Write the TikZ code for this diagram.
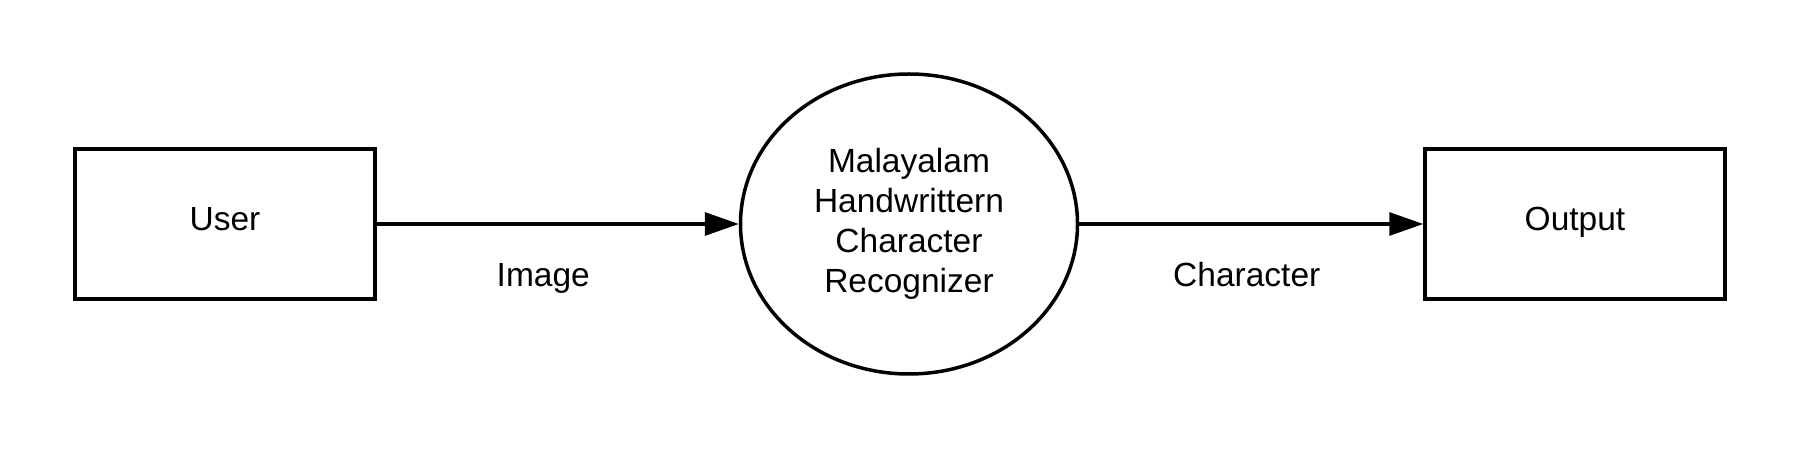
\documentclass[tikz,border=0pt]{standalone}
\usepackage{fontspec}
\setmainfont{Liberation Sans}
\usetikzlibrary{arrows.meta,shapes.geometric}
\begin{document}
\begin{tikzpicture}[x=1pt,y=1pt,
  every node/.style={font=\fontsize{33.5}{40}\selectfont},
  entity/.style={draw, line width=3.5pt, rectangle, minimum width=300pt, minimum height=150pt, inner sep=0pt, text height=23.4pt, text depth=10pt},
  process/.style={draw, line width=3.5pt, ellipse, minimum width=337pt, minimum height=300pt, inner sep=0pt, align=center},
  flow/.style={line width=3.2pt, -{Triangle[length=34pt,width=23pt]}},
  flowlabel/.style={anchor=base, yshift=-63pt}
]
\useasboundingbox[fill=white] (0,0) rectangle (1800,450);
\node[entity] (user) at (225,226) {User};
\node[process] (proc) at (909,226) {Malayalam\\Handwrittern\\Character\\Recognizer};
\node[entity] (out) at (1575,226) {Output};
\draw[flow] (user.east) -- node[flowlabel, pos=0.46] (l1) {Image} (proc.west);
\draw[flow] (proc.east) -- node[flowlabel, pos=0.487] (l2) {Character} (out.west);
\end{tikzpicture}
\end{document}
